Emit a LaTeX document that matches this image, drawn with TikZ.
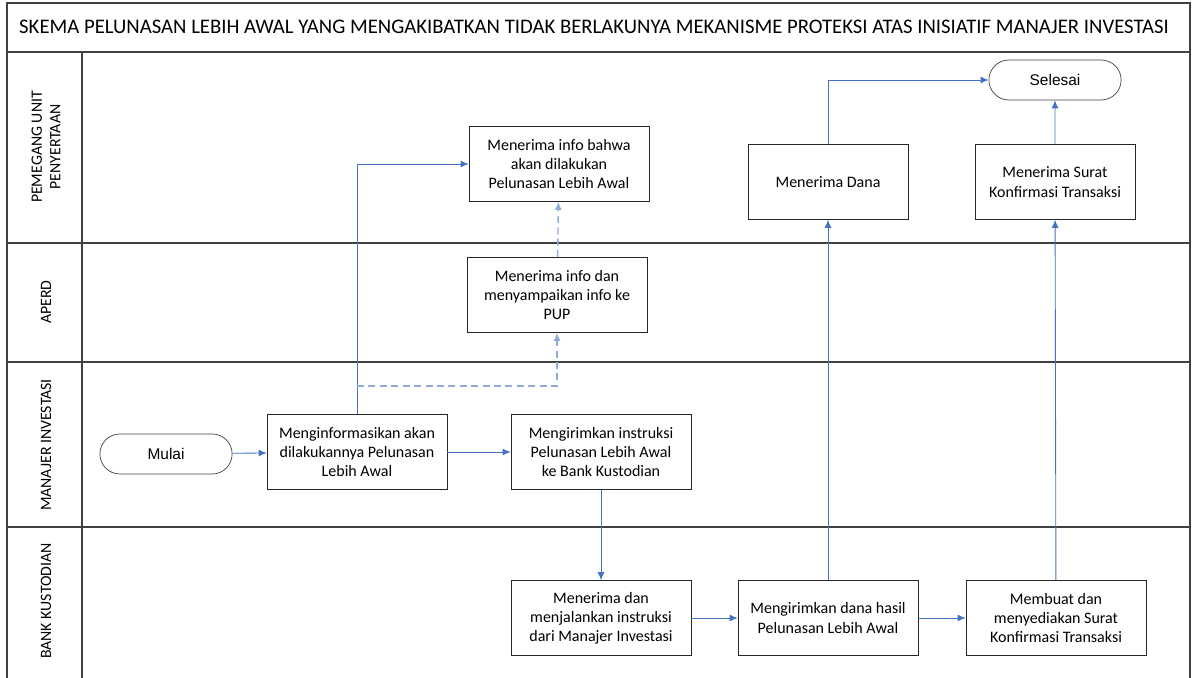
\documentclass[tikz,border=0pt]{standalone}
\usepackage{fontspec}
\setmainfont{Carlito}
\newfontfamily\arialfont{Liberation Sans}
\usetikzlibrary{positioning,shapes,arrows.meta}
\definecolor{flowblue}{RGB}{68,114,196}
\definecolor{dashblue}{RGB}{143,170,220}
\definecolor{framegray}{RGB}{64,64,64}

\begin{document}
\begin{tikzpicture}[x=0.02cm, y=-0.02cm,
  box/.style={draw=black!85, minimum width=3.6cm, minimum height=1.5cm, align=center, inner sep=2pt, font=\fontsize{9.1}{10.9}\selectfont},
  term/.style={draw=black!75, rounded rectangle, minimum width=2.88cm, minimum height=0.8cm, font=\arialfont\fontsize{8.8}{10}\selectfont},
  flow/.style={-{Latex[length=1.6mm,width=1.4mm]}, draw=flowblue, line width=0.5pt},
  dflow/.style={-{Latex[length=1.6mm,width=1.4mm]}, draw=dashblue, line width=0.8pt, dash pattern=on 4pt off 2.5pt},
  lane/.style={rotate=90, align=center, font=\fontsize{9}{10.5}\selectfont},
  frame/.style={draw=framegray, line width=1pt}]
  \useasboundingbox (0,0) rectangle (1192,678);

  % swimlanes
  \draw[frame] (7,678) -- (7,3) -- (1190,3) -- (1190,678);
  \draw[frame] (7,52) -- (1190,52);
  \draw[frame] (7,243) -- (1190,243);
  \draw[frame] (7,362) -- (1190,362);
  \draw[frame] (7,527) -- (1190,527);
  \draw[frame] (82,52) -- (82,678);
  \node[anchor=west, font=\fontsize{11.8}{13}\selectfont] (title) at (13,27) {SKEMA PELUNASAN LEBIH AWAL YANG MENGAKIBATKAN TIDAK BERLAKUNYA MEKANISME PROTEKSI ATAS INISIATIF MANAJER INVESTASI};
  \node[lane] (pup) at (46,147) {PEMEGANG UNIT\\PENYERTAAN};
  \node[lane] (aperd) at (46,302) {APERD};
  \node[lane] (mi) at (46,445) {MANAJER INVESTASI};
  \node[lane] (bk) at (46,601) {BANK KUSTODIAN};

  % steps
  \node[term] (mulai) at (166,454) {Mulai};
  \node[box] (info) at (357,452) {Menginformasikan akan\\dilakukannya Pelunasan\\Lebih Awal};
  \node[box] (instr) at (601,452) {Mengirimkan instruksi\\Pelunasan Lebih Awal\\ke Bank Kustodian};
  \node[box] (aperdinfo) at (557,295) {Menerima info dan\\menyampaikan info ke\\PUP};
  \node[box] (pupinfo) at (559,164) {Menerima info bahwa\\akan dilakukan\\Pelunasan Lebih Awal};
  \node[box] (jalan) at (601,618) {Menerima dan\\menjalankan instruksi\\dari Manajer Investasi};
  \node[box] (dana) at (828,618) {Mengirimkan dana hasil\\Pelunasan Lebih Awal};
  \node[box] (surat) at (1056,618) {Membuat dan\\menyediakan Surat\\Konfirmasi Transaksi};
  \node[box, minimum width=3.2cm] (terimadana) at (828,182) {Menerima Dana};
  \node[box, minimum width=3.2cm] (terimasurat) at (1055,182) {Menerima Surat\\Konfirmasi Transaksi};
  \node[term] (selesai) at (1055,80) {Selesai};
  \coordinate (split) at (357,386);

  % connectors
  \draw[flow] (mulai) -- (info);
  \draw[flow] (info) -- (instr);
  \draw[flow] (info.north) |- (pupinfo.west);
  \draw[dflow] (split) -| (aperdinfo.south);
  \draw[dflow] (aperdinfo) -- (pupinfo);
  \draw[flow] (instr) -- (jalan);
  \draw[flow] (jalan) -- (dana);
  \draw[flow] (dana) -- (surat);
  \draw[flow] (dana) -- (terimadana);
  \draw[flow] (surat) -- (terimasurat);
  \draw[flow] (terimadana.north) |- (selesai.west);
  \draw[flow] (terimasurat) -- (selesai);
\end{tikzpicture}
\end{document}
